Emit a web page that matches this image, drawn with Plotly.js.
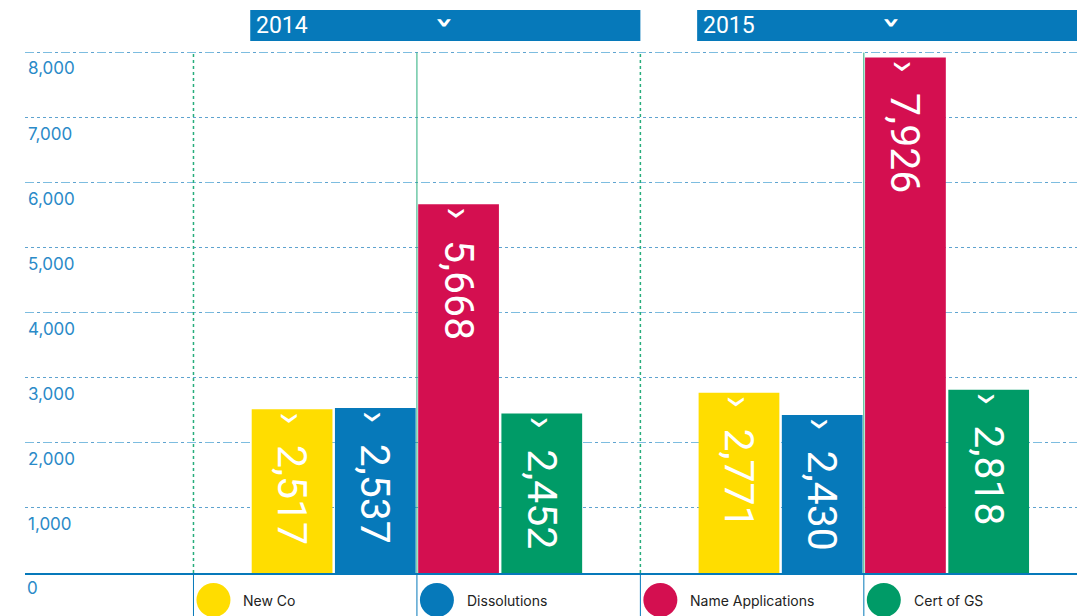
<!DOCTYPE html>
<html>
<head>
<meta charset="utf-8">
<script src="https://cdn.plot.ly/plotly-3.0.1.min.js"></script>
<style>html,body{margin:0;padding:0;background:#fff;}#chart{width:1077px;height:616px;}</style>
</head>
<body>
<div id="chart"></div>
<script>
const years = ["2014", "2015"];
const seriesNames = ["New Co", "Dissolutions", "Name Applications", "Cert of GS"];
const newCo = [2517, 2771];
const dissolutions = [2537, 2430];
const nameApplications = [5668, 7926];
const certOfGS = [2452, 2818];
const yTicks = [0, 1000, 2000, 3000, 4000, 5000, 6000, 7000, 8000];
const colors = ["#FFDD00", "#0679BA", "#D40F50", "#009B67"];
const seriesValues = [newCo, dissolutions, nameApplications, certOfGS];

const BLUE = "#0679BA";
const TICKFONT = {family: "Inter, Roboto, sans-serif", size: 17, color: "#2A8AC8"};
const traces = seriesValues.map((vals, i) => ({
  type: "bar",
  name: seriesNames[i],
  x: years,
  y: vals,
  marker: {color: colors[i], line: {width: 0}},
  texttemplate: "›  %{y:,}",
  textposition: "inside",
  insidetextanchor: "end",
  textangle: 90,
  constraintext: "none",
  textfont: {family: "Roboto, sans-serif", size: 41, color: "#ffffff"},
  hoverinfo: "skip",
  showlegend: false
}));
// invisible trace to anchor the dashed grid axis
traces.push({type: "scatter", x: years, y: [0, 0], yaxis: "y2", mode: "markers", marker: {opacity: 0}, showlegend: false, hoverinfo: "skip"});

const shapes = [];
const annotations = [];
// vertical separators inside plot
[-0.5, 0, 0.5, 1].forEach((xv, i) => {
  const solid = (i % 2 === 1);
  shapes.push({type: "line", xref: "x", yref: "y", x0: xv, x1: xv, y0: 0, y1: yTicks[yTicks.length - 1],
    line: {color: "#27AD7C", width: solid ? 1 : 1.5, dash: solid ? "solid" : "dot"}, layer: "above"});
  shapes.push({type: "line", xref: "x", yref: "paper", x0: xv, x1: xv, y0: -0.1, y1: 0,
    line: {color: BLUE, width: 1}, layer: "below"});
});
// year banners
years.forEach((yr, i) => {
  const x0 = i - 0.373, x1 = i + 0.5 + (i === 1 ? 0.1 : 0);
  shapes.push({type: "rect", xref: "x", yref: "paper", x0: x0, x1: x1, y0: 1.0172, y1: 1.0765,
    fillcolor: BLUE, line: {width: 0}});
  annotations.push({xref: "x", yref: "paper", x: x0, y: 1.047, xanchor: "left", yanchor: "middle",
    xshift: 4, text: yr, showarrow: false, font: {family: "Roboto, sans-serif", size: 23, color: "#fff"}});
  annotations.push({xref: "x", yref: "paper", x: i + 0.0635, y: 1.052, xanchor: "center", yanchor: "middle",
    text: "›", textangle: 90, showarrow: false, font: {family: "DejaVu Sans, sans-serif", size: 30, color: "#fff", weight: "bold"}});
});
// legend items
seriesNames.forEach((nm, i) => {
  const xc = -0.5 + 0.5 * i + 0.0447;
  shapes.push({type: "circle", xref: "x", yref: "paper", xsizemode: "pixel", ysizemode: "pixel",
    xanchor: xc, yanchor: -0.0516, x0: -17, x1: 17, y0: -17, y1: 17, fillcolor: colors[i], line: {width: 0}});
  annotations.push({xref: "x", yref: "paper", x: xc, y: -0.0535, xanchor: "left", yanchor: "middle", xshift: 28,
    text: nm, showarrow: false, font: {family: "Inter, Roboto, sans-serif", size: 14, color: "#222"}});
});
// zero label (sits under the baseline)
annotations.push({xref: "paper", yref: "y", x: 0, y: yTicks[0], xanchor: "left", yanchor: "top", xshift: 0, yshift: -3,
  text: String(yTicks[0]), showarrow: false, font: TICKFONT});

const layout = {
  width: 1077, height: 616,
  margin: {l: 25, r: 0, t: 50, b: 43},
  paper_bgcolor: "#fff", plot_bgcolor: "#fff",
  barmode: "group", bargap: 0.255, bargroupgap: 0.03,
  showlegend: false,
  xaxis: {type: "category", range: [-0.877, 1.477], showticklabels: false, ticks: "",
    showgrid: false, zeroline: false, showline: true, linecolor: BLUE, linewidth: 2, fixedrange: true},
  yaxis: {range: [0, 8040], tickvals: yTicks, ticktext: yTicks.map(v => v.toLocaleString("en-US")),
    ticklabelposition: "inside bottom", ticklabelshift: 4, ticks: "",
    tickfont: TICKFONT,
    showgrid: true, gridcolor: "#5FA3CF", griddash: "dot", gridwidth: 1, zeroline: false, showline: false},
  yaxis2: {overlaying: "y", range: [0, 8040], dtick: 2000, showticklabels: false, ticks: "",
    showgrid: true, gridcolor: "#7DBDE0", griddash: "dash", gridwidth: 1, zeroline: false, showline: false},
  shapes: shapes,
  annotations: annotations
};
Plotly.newPlot("chart", traces, layout, {displayModeBar: false, staticPlot: true});
</script>
</body>
</html>
